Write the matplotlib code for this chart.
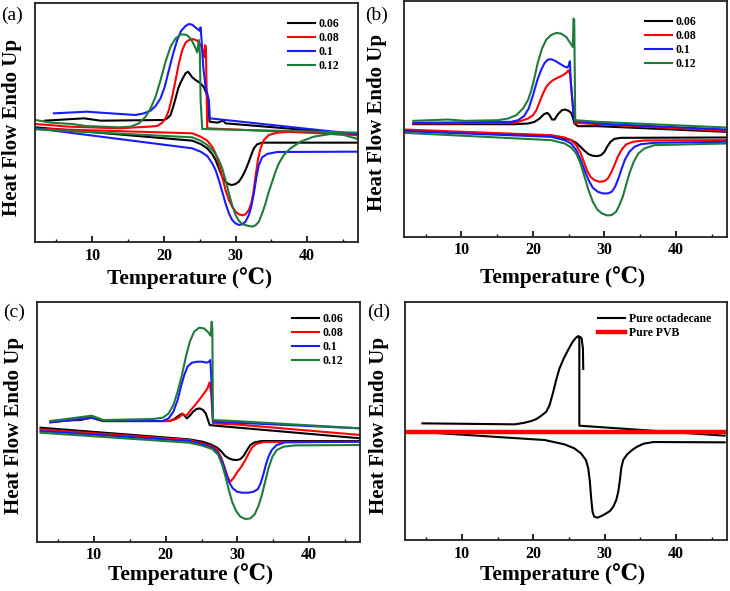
import matplotlib
matplotlib.use("Agg")
import matplotlib.pyplot as plt
from matplotlib.ticker import MultipleLocator

SERIF = ['Liberation Serif', 'DejaVu Serif']
plt.rcParams['font.family'] = SERIF

LABELS = ['0.06', '0.08', '0.1', '0.12']
COLORS = ['#000000', '#ff0000', '#1a1aff', '#1e7b3c']

# ---------------- panel (a) ----------------
A006_COOL_T = [3.40, 8.84, 11.16, 20.0, 20.47, 20.93, 21.30, 21.63, 22.0, 22.33, 22.70, 23.02, 23.35, 23.63, 23.95, 24.42, 25.12, 25.58, 25.95, 26.14, 26.28, 26.37, 27.44, 28.28, 28.60, 47.2]
A006_COOL_Y = [365, 372, 365, 367, 372, 382, 407, 432, 462, 479, 495, 507, 512, 505, 495, 487, 477, 465, 447, 427, 387, 362, 359, 365, 357, 324]
A006_HEAT_T = [2.09, 23.95, 25.12, 26.05, 26.74, 27.21, 27.67, 28.14, 28.60, 29.07, 29.53, 30.0, 30.47, 30.93, 31.40, 31.86, 32.19, 32.56, 33.02, 33.72, 47.2]
A006_HEAT_Y = [345, 305, 295, 282, 265, 247, 222, 197, 182, 174, 172, 175, 182, 197, 217, 242, 262, 282, 294, 299, 299]
A008_COOL_T = [2.09, 6.74, 13.72, 17.91, 19.07, 19.77, 20.23, 20.70, 21.16, 21.63, 22.09, 22.56, 23.02, 23.49, 24.09, 24.65, 25.12, 25.49, 25.67, 25.72, 25.86, 26.05, 47.2]
A008_COOL_Y = [355, 347, 342, 347, 349, 359, 372, 397, 437, 487, 537, 577, 599, 607, 610, 605, 592, 572, 555, 592, 587, 342, 322]
A008_HEAT_T = [2.09, 23.95, 25.12, 26.05, 26.74, 27.21, 27.67, 28.14, 28.60, 29.07, 29.53, 30.0, 30.47, 30.93, 31.40, 31.86, 32.19, 32.47, 32.79, 33.12, 33.49, 33.95, 34.65, 35.81, 38.14, 40.47, 43.72, 47.2]
A008_HEAT_Y = [341, 327, 317, 305, 287, 267, 237, 197, 157, 127, 107, 92, 84, 81, 84, 97, 117, 147, 197, 247, 282, 307, 322, 329, 332, 332, 329, 320]
A010_COOL_T = [4.65, 9.30, 11.16, 16.05, 17.21, 18.14, 18.84, 19.53, 20.09, 20.70, 21.30, 21.86, 22.42, 23.02, 23.49, 23.95, 24.56, 24.98, 25.12, 25.26, 25.49, 25.81, 26.28, 26.42, 47.2]
A010_COOL_Y = [387, 392, 389, 382, 387, 395, 409, 432, 465, 517, 567, 607, 635, 649, 655, 653, 642, 635, 645, 607, 527, 467, 427, 372, 324]
A010_HEAT_T = [2.09, 23.95, 25.12, 26.05, 26.74, 27.21, 27.67, 28.14, 28.60, 29.07, 29.53, 30.0, 30.47, 30.93, 31.40, 31.86, 32.19, 32.56, 32.93, 33.26, 33.72, 34.42, 35.81, 47.2]
A010_HEAT_Y = [342, 282, 272, 259, 237, 217, 187, 152, 117, 87, 67, 57, 52, 54, 62, 82, 107, 147, 197, 232, 255, 265, 271, 272]
A012_COOL_T = [2.09, 4.19, 7.21, 9.07, 13.72, 15.35, 16.51, 17.44, 18.14, 18.84, 19.53, 20.23, 20.93, 21.63, 22.33, 22.79, 23.26, 23.81, 24.28, 24.65, 24.88, 25.02, 25.12, 25.35, 47.2]
A012_COOL_Y = [367, 359, 355, 349, 345, 347, 357, 377, 402, 437, 487, 542, 587, 612, 623, 624, 621, 609, 589, 570, 607, 567, 427, 340, 329]
A012_HEAT_T = [2.09, 23.95, 25.12, 26.05, 26.98, 27.67, 28.14, 28.60, 29.07, 29.53, 30.0, 30.47, 30.93, 31.63, 32.33, 32.79, 33.26, 33.72, 34.19, 34.65, 35.12, 35.58, 36.05, 36.74, 37.67, 39.07, 40.93, 43.26, 45.12, 47.2]
A012_HEAT_Y = [339, 315, 305, 292, 272, 247, 222, 187, 147, 112, 82, 64, 55, 50, 47, 51, 62, 87, 117, 152, 182, 212, 237, 262, 282, 302, 317, 325, 322, 309]

# ---------------- panel (b) ----------------
B006_COOL_T = [3.26, 17.44, 19.30, 20.23, 20.93, 21.53, 22.0, 22.33, 22.65, 23.02, 23.49, 24.05, 24.51, 24.98, 25.35, 25.58, 25.81, 26.28, 29.07, 46.98]
B006_COOL_Y = [338, 338, 340, 345, 355, 368, 372, 365, 352, 352, 368, 380, 382, 378, 372, 358, 340, 332, 332, 315]
B006_HEAT_T = [2.0, 22.56, 24.42, 25.35, 26.05, 26.65, 27.21, 27.77, 28.37, 28.98, 29.53, 30.0, 30.37, 30.84, 31.40, 32.33, 46.98]
B006_HEAT_Y = [320, 302, 295, 290, 282, 270, 258, 248, 243, 242, 245, 255, 270, 285, 294, 297, 298]
B008_COOL_T = [3.26, 17.44, 18.37, 19.30, 20.0, 20.47, 20.93, 21.40, 21.86, 22.33, 22.79, 23.49, 24.19, 24.65, 24.98, 25.21, 25.44, 25.67, 25.91, 29.07, 46.98]
B008_COOL_Y = [340, 342, 348, 355, 365, 380, 405, 430, 450, 462, 470, 478, 485, 492, 500, 485, 430, 370, 342, 338, 318]
B008_HEAT_T = [2.0, 22.56, 24.42, 25.35, 26.05, 26.65, 27.12, 27.58, 28.05, 28.60, 29.30, 30.0, 30.47, 30.93, 31.40, 31.86, 32.42, 33.02, 33.95, 35.58, 46.98]
B008_HEAT_Y = [322, 305, 298, 290, 275, 252, 225, 198, 180, 170, 165, 167, 175, 192, 215, 240, 262, 277, 285, 289, 290]
B010_COOL_T = [3.26, 16.98, 17.91, 18.74, 19.40, 20.0, 20.60, 21.16, 21.63, 22.09, 22.56, 23.12, 23.72, 24.33, 24.79, 25.02, 25.16, 25.30, 25.58, 25.81, 29.07, 46.98]
B010_COOL_Y = [342, 345, 350, 362, 385, 425, 470, 502, 522, 532, 533, 528, 520, 512, 508, 515, 527, 460, 390, 348, 340, 322]
B010_HEAT_T = [2.0, 22.56, 24.42, 25.35, 26.05, 26.65, 27.21, 27.77, 28.37, 29.07, 29.77, 30.47, 31.02, 31.49, 31.95, 32.42, 32.88, 33.49, 34.19, 35.12, 36.98, 46.98]
B010_HEAT_Y = [317, 300, 290, 280, 260, 232, 200, 170, 147, 135, 130, 130, 135, 150, 175, 205, 232, 255, 270, 278, 282, 285]
B012_COOL_T = [3.26, 8.14, 10.47, 15.12, 16.51, 17.67, 18.60, 19.30, 19.77, 20.23, 20.70, 21.26, 21.86, 22.56, 23.26, 23.95, 24.65, 25.12, 25.58, 25.67, 25.77, 25.91, 29.07, 46.98]
B012_COOL_Y = [348, 352, 348, 350, 355, 365, 385, 410, 440, 480, 525, 565, 592, 606, 612, 610, 600, 585, 570, 655, 652, 350, 345, 328]
B012_HEAT_T = [2.0, 22.56, 24.42, 25.35, 26.05, 26.65, 27.21, 27.77, 28.37, 28.98, 29.63, 30.37, 31.02, 31.63, 32.09, 32.56, 33.02, 33.49, 34.09, 34.74, 35.58, 36.98, 46.98]
B012_HEAT_Y = [312, 290, 280, 268, 250, 220, 180, 140, 105, 82, 70, 64, 65, 75, 95, 120, 155, 190, 225, 250, 265, 275, 280]

# ---------------- panel (c) ----------------
C006_COOL_T = [3.92, 8.06, 9.68, 11.29, 20.51, 21.20, 21.80, 22.26, 22.63, 22.95, 23.36, 23.82, 24.29, 24.75, 25.21, 25.58, 25.90, 26.13, 26.96, 47.24]
C006_COOL_Y = [362, 365, 372, 362, 362, 368, 378, 384, 378, 370, 378, 390, 398, 400, 395, 385, 365, 350, 348, 310]
C006_HEAT_T = [2.53, 23.27, 25.12, 26.27, 27.19, 27.79, 28.25, 28.80, 29.35, 29.95, 30.41, 30.88, 31.34, 31.80, 32.40, 33.41, 47.24]
C006_HEAT_Y = [342, 307, 300, 292, 282, 270, 258, 250, 246, 245, 248, 258, 275, 290, 298, 302, 302]
C008_COOL_T = [3.92, 9.68, 11.29, 20.51, 21.43, 21.98, 22.35, 22.72, 23.04, 23.50, 24.10, 24.65, 25.35, 25.81, 26.13, 26.36, 26.59, 29.72, 47.24]
C008_COOL_Y = [358, 372, 362, 362, 368, 375, 384, 378, 382, 395, 410, 425, 445, 460, 478, 440, 355, 352, 320]
C008_HEAT_T = [2.53, 23.27, 25.12, 26.50, 27.19, 27.79, 28.25, 28.71, 29.03, 29.49, 29.95, 30.55, 31.11, 31.57, 32.03, 32.58, 33.64, 47.24]
C008_HEAT_Y = [337, 305, 295, 285, 275, 250, 220, 190, 180, 192, 208, 225, 245, 265, 282, 293, 299, 300]
C010_COOL_T = [3.92, 9.68, 11.29, 19.59, 20.41, 21.06, 21.66, 22.12, 22.58, 23.04, 23.64, 24.42, 25.12, 25.67, 26.04, 26.22, 26.36, 26.59, 29.72, 47.24]
C010_COOL_Y = [358, 372, 362, 362, 370, 390, 425, 465, 500, 525, 537, 540, 540, 537, 540, 545, 490, 360, 357, 340]
C010_HEAT_T = [2.53, 23.27, 25.12, 26.50, 27.33, 27.88, 28.34, 28.80, 29.35, 29.95, 30.65, 31.57, 32.26, 32.86, 33.23, 33.59, 33.96, 34.33, 34.79, 35.48, 36.64, 47.24]
C010_HEAT_Y = [332, 302, 292, 282, 265, 240, 210, 180, 160, 150, 147, 147, 150, 158, 175, 200, 230, 255, 275, 290, 298, 300]
C012_COOL_T = [3.92, 9.68, 11.29, 18.20, 19.59, 20.41, 21.06, 21.66, 22.26, 22.81, 23.36, 23.96, 24.65, 25.35, 25.94, 26.27, 26.41, 26.50, 26.59, 29.72, 47.24]
C012_COOL_Y = [362, 378, 365, 368, 372, 385, 410, 450, 500, 555, 600, 630, 642, 640, 628, 618, 660, 640, 365, 362, 340]
C012_HEAT_T = [2.53, 23.27, 25.12, 26.50, 27.33, 27.88, 28.34, 28.80, 29.26, 29.82, 30.41, 31.11, 31.80, 32.40, 32.95, 33.41, 33.87, 34.33, 34.88, 35.48, 36.41, 38.02, 47.24]
C012_HEAT_Y = [327, 297, 288, 278, 260, 230, 195, 155, 120, 92, 75, 68, 70, 82, 108, 140, 180, 220, 255, 275, 285, 289, 290]

# ---------------- panel (d) ----------------
D_OCT_COOL_T = [4.44, 17.41, 18.80, 19.72, 20.42, 21.11, 21.81, 22.27, 22.73, 23.19, 23.66, 24.26, 24.91, 25.51, 25.97, 26.30, 26.44, 26.44, 46.81]
D_OCT_COOL_Y = [350, 347, 352, 357, 363, 373, 385, 405, 440, 480, 515, 545, 572, 595, 607, 612, 608, 343, 313]
D_OCT_HOOK_T = [26.44, 26.53, 26.76, 26.94, 26.99]
D_OCT_HOOK_Y = [608, 610, 605, 575, 513]
D_OCT_HEAT_T = [2.04, 21.57, 24.35, 25.74, 26.67, 27.36, 27.69, 27.92, 28.10, 28.29, 28.52, 28.98, 29.54, 30.14, 30.74, 31.20, 31.62, 31.90, 32.13, 32.31, 32.59, 33.15, 33.84, 34.54, 35.46, 36.85, 46.81]
D_OCT_HEAT_Y = [327, 300, 287, 275, 260, 240, 215, 175, 125, 85, 70, 67, 72, 79, 87, 100, 120, 145, 180, 215, 240, 257, 270, 280, 289, 294, 293]
D_PVB_T = [2.0, 47.0]
D_PVB_Y = [325, 325]

XLIM = (2.0, 47.1)

fig = plt.figure(figsize=(7.30, 5.91), dpi=100)
W, H = 730.0, 591.0


def make_ax(l, t, r, b):
    return fig.add_axes([l / W, 1 - b / H, (r - l) / W, (b - t) / H])


def style(ax, ytop):
    ax.set_xlim(*XLIM)
    ax.set_ylim(0, ytop)
    ax.xaxis.set_major_locator(MultipleLocator(10))
    ax.xaxis.set_minor_locator(MultipleLocator(5))
    ax.tick_params(axis='x', which='both', direction='in', top=False, bottom=True,
                   labelsize=11.5, pad=4)
    ax.tick_params(axis='x', which='major', length=4.5, width=1.2)
    ax.tick_params(axis='x', which='minor', length=2.5, width=1.0)
    ax.tick_params(axis='y', left=False, right=False, labelleft=False)
    for lab in ax.get_xticklabels():
        lab.set_fontweight('bold')
    for sp in ax.spines.values():
        sp.set_linewidth(1.3)
        sp.set_color('#222222')


def legend(ax, x, ytop, hl=2.3):
    ax.legend(loc='upper left', bbox_to_anchor=(x, ytop), frameon=False,
              prop={'family': SERIF, 'weight': 'bold', 'size': 8.5},
              handlelength=hl, handletextpad=0.3, labelspacing=0.17,
              borderpad=0, borderaxespad=0)


LW = 1.5


def draw_set(ax, sets):
    for (ct, cy, ht, hy), lab, c in zip(sets, LABELS, COLORS):
        ax.plot(ht, hy, color=c, lw=LW)
        ax.plot(ct, cy, color=c, lw=LW, label=lab)


ax_a = make_ax(35, 2.7, 358, 242.3)
draw_set(ax_a, [(A006_COOL_T, A006_COOL_Y, A006_HEAT_T, A006_HEAT_Y),
                (A008_COOL_T, A008_COOL_Y, A008_HEAT_T, A008_HEAT_Y),
                (A010_COOL_T, A010_COOL_Y, A010_HEAT_T, A010_HEAT_Y),
                (A012_COOL_T, A012_COOL_Y, A012_HEAT_T, A012_HEAT_Y)])
style(ax_a, 719)
legend(ax_a, 0.783, 0.935)

ax_b = make_ax(404.3, 1.0, 726.7, 236.7)
draw_set(ax_b, [(B006_COOL_T, B006_COOL_Y, B006_HEAT_T, B006_HEAT_Y),
                (B008_COOL_T, B008_COOL_Y, B008_HEAT_T, B008_HEAT_Y),
                (B010_COOL_T, B010_COOL_Y, B010_HEAT_T, B010_HEAT_Y),
                (B012_COOL_T, B012_COOL_Y, B012_HEAT_T, B012_HEAT_Y)])
style(ax_b, 708)
legend(ax_b, 0.747, 0.935)

ax_c = make_ax(36.7, 301.7, 360, 541.7)
draw_set(ax_c, [(C006_COOL_T, C006_COOL_Y, C006_HEAT_T, C006_HEAT_Y),
                (C008_COOL_T, C008_COOL_Y, C008_HEAT_T, C008_HEAT_Y),
                (C010_COOL_T, C010_COOL_Y, C010_HEAT_T, C010_HEAT_Y),
                (C012_COOL_T, C012_COOL_Y, C012_HEAT_T, C012_HEAT_Y)])
style(ax_c, 720)
legend(ax_c, 0.789, 0.952)

ax_d = make_ax(405, 301.7, 726.7, 540)
ax_d.plot(D_OCT_HEAT_T, D_OCT_HEAT_Y, color='#000000', lw=LW)
ax_d.plot(D_OCT_HOOK_T, D_OCT_HOOK_Y, color='#000000', lw=LW)
ax_d.plot(D_OCT_COOL_T, D_OCT_COOL_Y, color='#000000', lw=LW, label='Pure octadecane')
ax_d.plot(D_PVB_T, D_PVB_Y, color='#ff0000', lw=3.2, label='Pure PVB')
style(ax_d, 715)
legend(ax_d, 0.60, 0.952, hl=2.3)

for cx, cy in [(12.5, 127), (377.5, 122), (14.5, 425), (379.5, 425)]:
    fig.text(cx / W, 1 - cy / H, 'Heat Flow Endo Up', rotation=90, ha='center', va='center',
             fontsize=15, fontweight='bold', family=SERIF)
for cx, cy in [(189.5, 278), (562.5, 277.5), (191, 574), (562.5, 574)]:
    fig.text(cx / W, 1 - cy / H, 'Temperature (\u2103)', ha='center', va='center',
             fontsize=15.5, fontweight='bold', family=SERIF)
for txt, cx, cy in [('(a)', 11.5, 15.5), ('(b)', 377, 15.5), ('(c)', 14, 312), ('(d)', 379, 312)]:
    fig.text(cx / W, 1 - cy / H, txt, ha='center', va='center', fontsize=14, family=SERIF)

fig.savefig('out.png', dpi=100)
